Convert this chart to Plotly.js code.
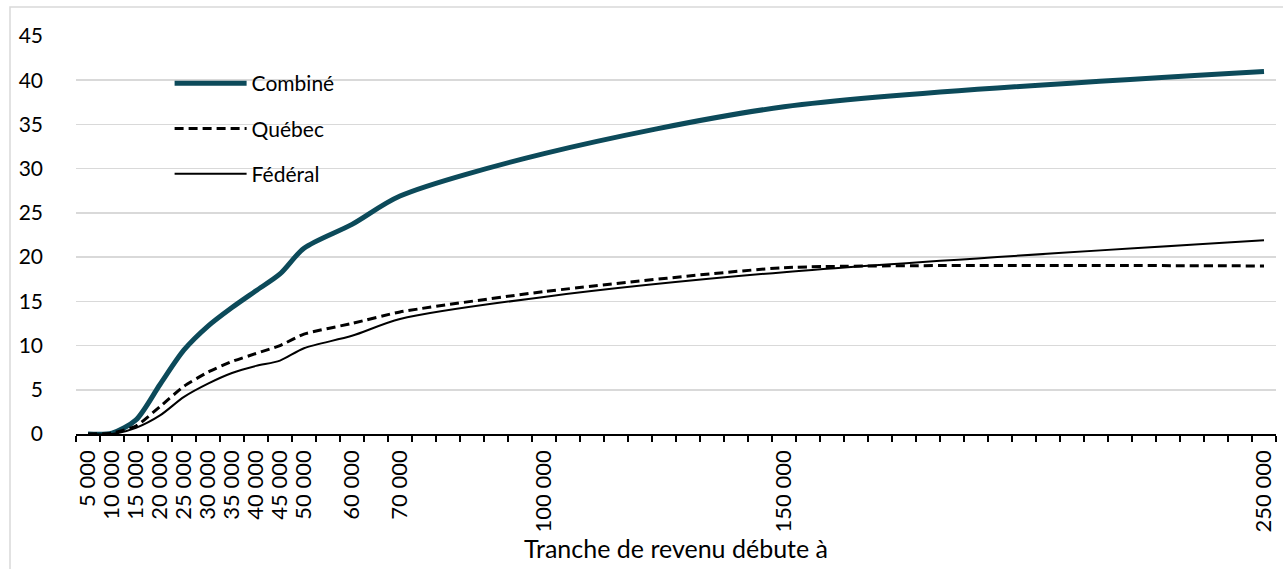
<!DOCTYPE html>
<html>
<head>
<meta charset="utf-8">
<script src="https://cdn.plot.ly/plotly-3.0.1.min.js"></script>
<style>
  html, body { margin: 0; padding: 0; background: #fff; }
  #chart { width: 1283px; height: 569px; }
</style>
</head>
<body>
<div id="chart"></div>
<script>
// Income bracket start (x) and rates (%)
const revenu = [5000, 10000, 15000, 20000, 25000, 30000, 35000, 40000, 45000, 50000, 60000, 70000, 100000, 150000, 250000];
const combine = [0.0, 0.1, 1.6, 5.6, 9.5, 12.2, 14.3, 16.2, 18.1, 21.0, 23.7, 26.9, 31.7, 37.0, 41.0];
const quebec  = [0.0, 0.1, 0.9, 3.1, 5.4, 7.0, 8.2, 9.1, 10.0, 11.3, 12.5, 13.8, 16.1, 18.8, 19.0];
const federal = [0.0, 0.0, 0.7, 2.1, 4.2, 5.7, 6.9, 7.7, 8.3, 9.7, 11.1, 13.0, 15.5, 18.3, 21.9];
const tickValues = [5000, 10000, 15000, 20000, 25000, 30000, 35000, 40000, 45000, 50000, 60000, 70000, 100000, 150000, 250000];
const tickLabels = ['5 000', '10 000', '15 000', '20 000', '25 000', '30 000', '35 000', '40 000', '45 000', '50 000', '60 000', '70 000', '100 000', '150 000', '250 000'];
const yTicks = [0, 5, 10, 15, 20, 25, 30, 35, 40, 45];

const FONT = 'Lato, "Liberation Sans", sans-serif';

const traces = [
  { x: revenu, y: combine, name: 'Combiné', type: 'scatter', mode: 'lines',
    legendgroup: 'a',
    line: { color: '#0C4A5A', width: 5, shape: 'spline', smoothing: 0.8 } },
  { x: revenu, y: quebec, name: 'Québec', type: 'scatter', mode: 'lines',
    legendgroup: 'b',
    line: { color: '#000000', width: 3, dash: '9px,5px', shape: 'spline', smoothing: 0.5 } },
  { x: revenu, y: federal, name: 'Fédéral', type: 'scatter', mode: 'lines',
    legendgroup: 'c',
    line: { color: '#000000', width: 2, shape: 'spline', smoothing: 0.8 } }
];

const layout = {
  width: 1283, height: 569,
  margin: { l: 76, r: 7, t: 36, b: 135 },
  paper_bgcolor: '#ffffff', plot_bgcolor: '#ffffff',
  font: { family: FONT, size: 21, color: '#000000' },
  showlegend: true,
  legend: {
    x: 0.078, y: 0.932, xanchor: 'left', yanchor: 'top',
    bgcolor: 'rgba(0,0,0,0)', borderwidth: 0,
    itemwidth: 72, tracegroupgap: 15,
    font: { family: FONT, size: 21, color: '#000000' }
  },
  xaxis: {
    type: 'linear', range: [2500, 252500],
    tickmode: 'array', tickvals: tickValues, ticktext: tickLabels,
    tickangle: -90, ticks: '', showgrid: false, zeroline: false,
    showline: true, linecolor: '#000000', linewidth: 1.5,
    ticklabelstandoff: 6,
    tickfont: { family: FONT, size: 22, color: '#000000' },
    minor: { tickmode: 'linear', tick0: 2500, dtick: 5000, ticks: 'outside', ticklen: 6, tickwidth: 1.5, tickcolor: '#000000', showgrid: false },
    title: { text: 'Tranche de revenu débute à', font: { family: FONT, size: 25, color: '#000000' }, standoff: 8 },
    fixedrange: true
  },
  yaxis: {
    range: [0, 45], tickmode: 'array', tickvals: yTicks,
    showgrid: true, gridcolor: '#d9d9d9', gridwidth: 1.5,
    zeroline: false, showline: false, ticks: '',
    ticklabelstandoff: 32,
    tickfont: { family: FONT, size: 21, color: '#000000' },
    fixedrange: true
  },
  shapes: [
    { type: 'rect', xref: 'paper', yref: 'paper',
      x0: -0.055, x1: 1.02, y0: -0.4, y1: 1.0729,
      line: { color: '#d9d9d9', width: 1.5 }, fillcolor: 'rgba(0,0,0,0)', layer: 'below' }
  ]
};

Plotly.newPlot('chart', traces, layout, { displayModeBar: false, staticPlot: true });
</script>
</body>
</html>
